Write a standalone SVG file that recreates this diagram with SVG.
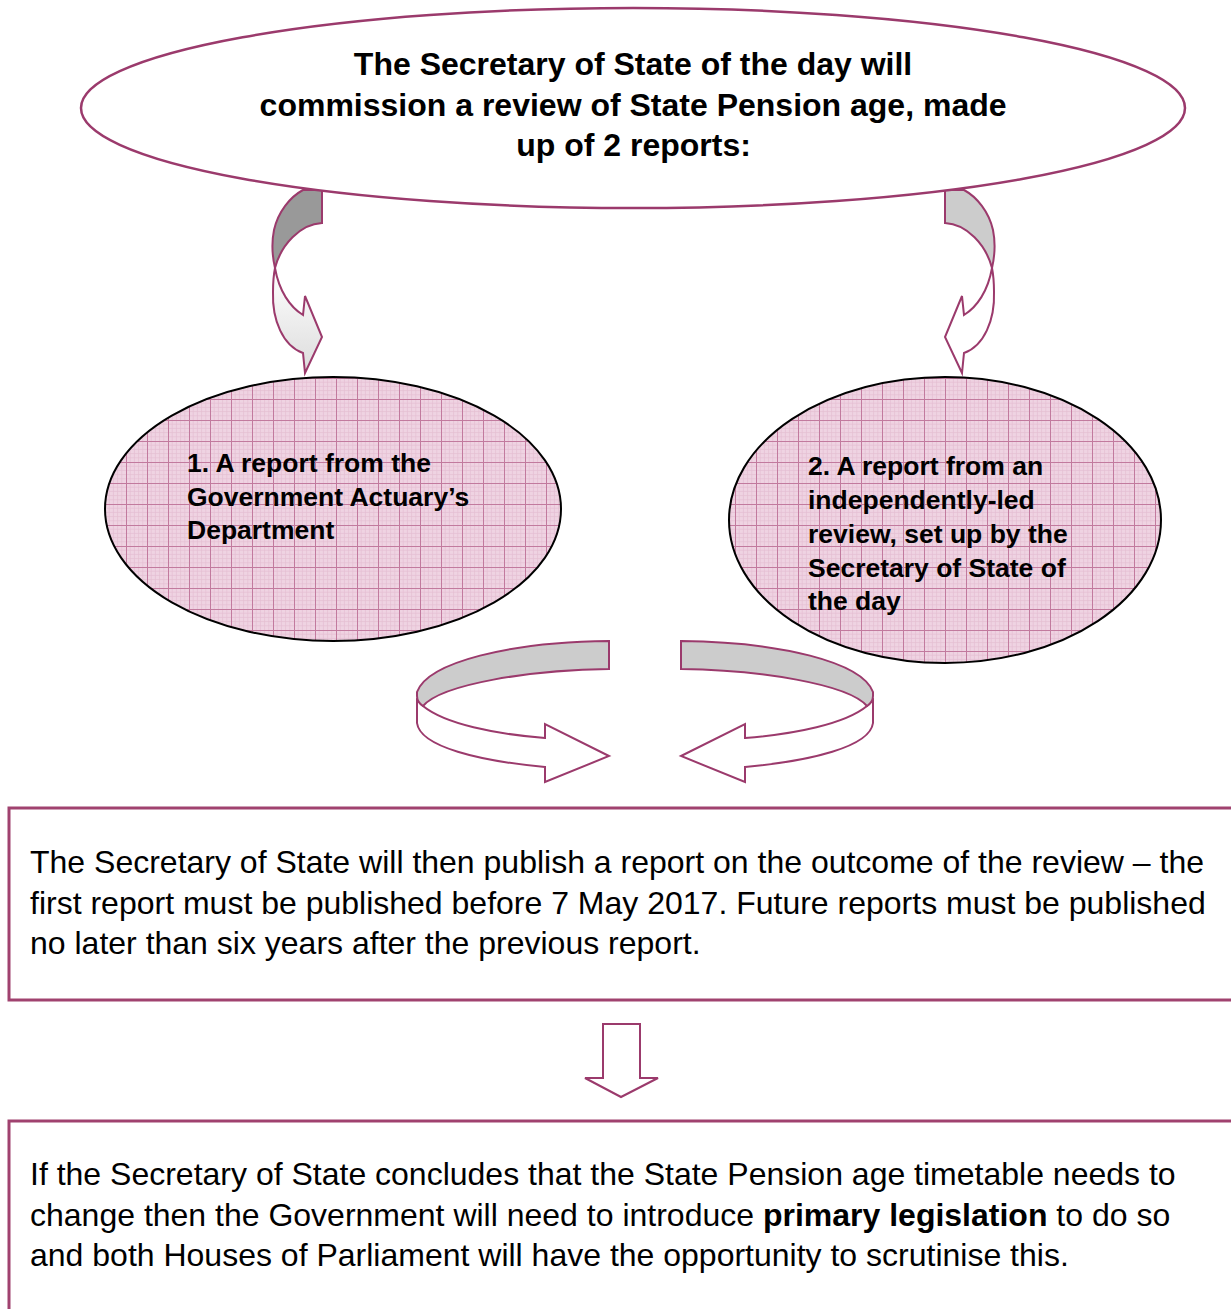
<svg xmlns="http://www.w3.org/2000/svg" width="1231" height="1309" viewBox="0 0 1231 1309">
<defs>
<pattern id="grid" width="21" height="21" patternUnits="userSpaceOnUse">
<rect width="21" height="21" fill="#EFD3E2"/>
<path d="M4.2 0V21M8.4 0V21M12.6 0V21M16.8 0V21M0 4.2H21M0 8.4H21M0 12.6H21M0 16.8H21" stroke="#E4BDD1" stroke-width="0.7" fill="none"/>
<path d="M0.5 0V21M0 0.5H21" stroke="#C27A9E" stroke-width="1" fill="none"/>
</pattern>
<linearGradient id="fade" x1="0" y1="0" x2="0" y2="1">
<stop offset="0" stop-color="#FFFFFF"/>
<stop offset="1" stop-color="#DCDCDC"/>
</linearGradient>
<style>
.arr{stroke:#9B3A6C;stroke-width:2;stroke-linejoin:miter}
.bx{fill:#FFFFFF;stroke:#A0426F;stroke-width:3}
.bold{font-family:"Liberation Sans",Arial,sans-serif;font-weight:bold;fill:#000}
.body{font-family:"Liberation Sans",Arial,sans-serif;font-size:32px;fill:#000}
</style>
</defs>
<rect width="1231" height="1309" fill="#FFFFFF"/>

<g id="connectors">
<!-- top left curved arrow -->
<path class="arr" fill="url(#fade)" d="M275,268 C279,291 290,307 303,315 L305,296 L322,337 L305,373 L303,353 C283,346 272,320 273,292 C273,282 274,273 275,268 Z"/>
<path class="arr" fill="#999999" d="M303,190 L322,190 L322,223 C300,224 281,245 275,268 C272,255 272,240 274,230 C278,212 290,197 303,190 Z"/>
<!-- top right curved arrow (mirror) -->
<g transform="translate(1267,0) scale(-1,1)">
<path class="arr" fill="#FFFFFF" d="M275,268 C279,291 290,307 303,315 L305,296 L322,337 L305,373 L303,353 C283,346 272,320 273,292 C273,282 274,273 275,268 Z"/>
<path class="arr" fill="#CCCCCC" d="M303,190 L322,190 L322,223 C300,224 281,245 275,268 C272,255 272,240 274,230 C278,212 290,197 303,190 Z"/>
</g>
<!-- bottom left curved arrow -->
<path class="arr" fill="#FFFFFF" d="M423,706 C445,724 495,734 545,738 L545,724 L609,756 L545,782 L545,767 C480,761 420,747 417,723 L417,700 Z"/>
<path class="arr" fill="#CCCCCC" d="M609,641 L609,669 C530,670 442,684 423,706 C420,704 417,701 417,696 L417,692 C428,662 510,642 609,641 Z"/>
<!-- bottom right curved arrow (mirror) -->
<g transform="translate(1290,0) scale(-1,1)">
<path class="arr" fill="#FFFFFF" d="M423,706 C445,724 495,734 545,738 L545,724 L609,756 L545,782 L545,767 C480,761 420,747 417,723 L417,700 Z"/>
<path class="arr" fill="#CCCCCC" d="M609,641 L609,669 C530,670 442,684 423,706 C420,704 417,701 417,696 L417,692 C428,662 510,642 609,641 Z"/>
</g>
<!-- down arrow -->
<path class="arr" fill="#FFFFFF" d="M603,1024 L640,1024 L640,1078 L658,1078 L621,1097 L585,1078 L603,1078 Z"/>
</g>

<g id="top">
<ellipse cx="633" cy="108" rx="552" ry="100" fill="#FFFFFF" stroke="#9B3A6C" stroke-width="2.5"/>
<text class="bold" font-size="32" text-anchor="middle">
<tspan x="637.5" y="75">The Secretary of State of the day will</tspan>
<tspan x="637.5" y="115.5">commission a review of State Pension age, made</tspan>
<tspan x="633.5" y="156">up of 2 reports:</tspan>
</text>
</g>

<g id="report1">
<ellipse cx="333" cy="509" rx="228" ry="132" fill="url(#grid)" stroke="#000" stroke-width="2"/>
<text class="bold" font-size="26.5">
<tspan x="187" y="472">1. A report from the</tspan>
<tspan x="187" y="505.5">Government Actuary’s</tspan>
<tspan x="187" y="539">Department</tspan>
</text>
</g>

<g id="report2">
<ellipse cx="945" cy="520" rx="216" ry="143" fill="url(#grid)" stroke="#000" stroke-width="2"/>
<text class="bold" font-size="26.5">
<tspan x="808" y="475">2. A report from an</tspan>
<tspan x="808" y="509">independently-led</tspan>
<tspan x="808" y="543">review, set up by the</tspan>
<tspan x="808" y="577">Secretary of State of</tspan>
<tspan x="808" y="610">the day</tspan>
</text>
</g>

<g id="publish">
<rect class="bx" x="9" y="808" width="1240" height="192"/>
<text class="body">
<tspan x="30" y="873">The Secretary of State will then publish a report on the outcome of the review – the</tspan>
<tspan x="30" y="913.5">first report must be published before 7 May 2017. Future reports must be published</tspan>
<tspan x="30" y="954">no later than six years after the previous report.</tspan>
</text>
</g>

<g id="legislation">
<rect class="bx" x="9" y="1121" width="1240" height="200"/>
<text class="body">
<tspan x="30" y="1185">If the Secretary of State concludes that the State Pension age timetable needs to</tspan>
<tspan x="30" y="1225.5">change then the Government will need to introduce <tspan font-weight="bold">primary legislation</tspan> to do so</tspan>
<tspan x="30" y="1266">and both Houses of Parliament will have the opportunity to scrutinise this.</tspan>
</text>
</g>
</svg>
